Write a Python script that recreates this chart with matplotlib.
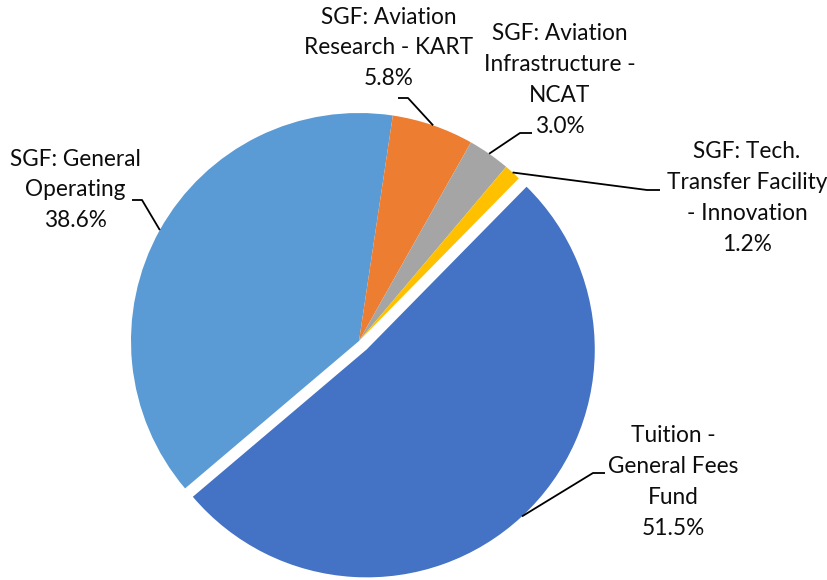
import numpy as np
import matplotlib
matplotlib.use("Agg")
import matplotlib.pyplot as plt

# data, in Excel order (first slice = tuition)
labels = [
    "Tuition -\nGeneral Fees\nFund",
    "SGF: General\nOperating",
    "SGF: Aviation\nResearch - KART",
    "SGF: Aviation\nInfrastructure -\nNCAT",
    "SGF: Tech.\nTransfer Facility\n- Innovation",
]
shares = [51.5, 38.6, 5.8, 3.0, 1.2]
colors = ["#4472C4", "#5B9BD5", "#ED7D31", "#A5A5A5", "#FFC000"]
explode = [0.05, 0, 0, 0, 0]

# label layout in image pixels: text centre, leader start, leader elbow
text_pos = [(673, 482), (75, 190), (389, 48), (560, 80), (747, 198)]
leader_start = [(605, 473), (132, 200), (398, 98), (532, 133), (660, 190)]
leader_elbow = [(593, 473), (142, 200), (408, 98), (520, 133), (647, 190)]

W, H = 828, 580
cx, cy, R = 359, 341, 228  # pie centre and radius in pixels


def px(x, y):
    return ((x - cx) / R, (cy - y) / R)


fig = plt.figure(figsize=(W / 100, H / 100), dpi=100)
ax = fig.add_axes([0, 0, 1, 1])

wedges, _ = ax.pie(shares, colors=colors, explode=explode, startangle=45.5,
                   counterclock=False, radius=1, center=(0, 0),
                   wedgeprops=dict(linewidth=0))
ax.set_xlim(px(0, 0)[0], px(W, 0)[0])
ax.set_ylim(px(0, H)[1], px(0, 0)[1])
ax.set_aspect("equal")
ax.axis("off")

for w, lab, val, tp, ls, le in zip(wedges, labels, shares, text_pos,
                                   leader_start, leader_elbow):
    mid = np.deg2rad((w.theta1 + w.theta2) / 2)
    ex = w.center[0] + w.r * np.cos(mid)
    ey = w.center[1] + w.r * np.sin(mid)
    xs = [px(*ls)[0], px(*le)[0], ex]
    ys = [px(*ls)[1], px(*le)[1], ey]
    ax.plot(xs, ys, color="black", lw=1.3, solid_capstyle="butt")
    ax.text(*px(*tp), f"{lab}\n{val:.1f}%", ha="center", va="center",
            multialignment="center", fontsize=16.3, family="Lato",
            color="#0d0d0d", linespacing=1.58)

fig.savefig("out.png", dpi=100)
